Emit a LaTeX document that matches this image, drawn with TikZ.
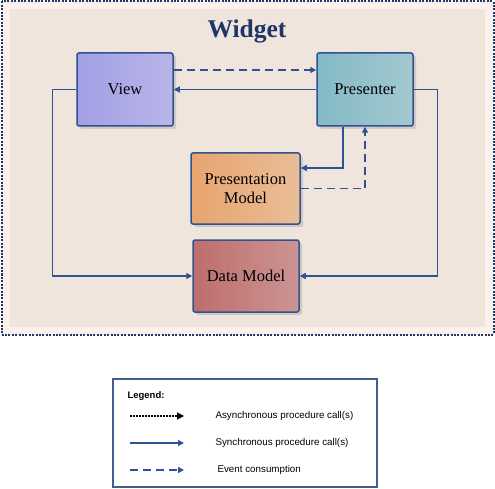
\documentclass[tikz,border=0pt]{standalone}
\usepackage{fontspec}
\setmainfont{Liberation Serif}
\setsansfont{Liberation Sans}
\usetikzlibrary{positioning, arrows.meta, shadows}

\definecolor{linkblue}{HTML}{2F5293}
\definecolor{titleblue}{HTML}{1F3468}
\definecolor{framefill}{HTML}{F9F1EA}
\definecolor{widgetfill}{HTML}{EFE5DC}
\definecolor{legendline}{HTML}{3F5F8F}
\definecolor{viewA}{HTML}{A39FE6}
\definecolor{viewB}{HTML}{B8B6E8}
\definecolor{presA}{HTML}{83BAC6}
\definecolor{presB}{HTML}{A2C8CF}
\definecolor{pmA}{HTML}{E8A46E}
\definecolor{pmB}{HTML}{E8BE98}
\definecolor{dmA}{HTML}{BE6E6C}
\definecolor{dmB}{HTML}{CC9493}

\begin{document}
\begin{tikzpicture}[x=1pt, y=-1pt,
    part/.style={rectangle, draw=linkblue, line width=1.5pt, rounded corners=2pt,
                 font=\fontsize{16.5}{19}\selectfont, align=center, inner sep=2pt,
                 drop shadow={shadow xshift=3pt, shadow yshift=-3pt, fill=black, opacity=0.12}},
    sync/.style={draw=linkblue, line width=1.4pt, -{Triangle[length=6pt, width=6pt]}},
    event/.style={sync, dash pattern=on 8pt off 5pt},
    async/.style={draw=black, line width=1.3pt, dash pattern=on 2pt off 1pt, -{Triangle[length=7pt, width=7pt]}},
    legendtext/.style={font=\sffamily\fontsize{9.8}{11}\selectfont, anchor=west}
]
    \useasboundingbox (0,0) rectangle (495,489);

    % Widget frame
    \fill[framefill] (1,1) rectangle (494,335);
    \fill[widgetfill] (10,9) rectangle (485,327);
    \draw[titleblue, line width=2pt, dash pattern=on 2pt off 1.4pt] (1.5,1.5) rectangle (493.5,334.5);

    % Title
    \node[font=\fontsize{25.5}{28}\selectfont\bfseries, text=titleblue] (title) at (247,31) {Widget};

    % Parts
    \node[part, minimum width=96pt, minimum height=73pt, left color=viewA, right color=viewB] (view) at (125,89.5) {View};
    \node[part, minimum width=96pt, minimum height=73pt, left color=presA, right color=presB] (presenter) at (365,89.5) {Presenter};
    \node[part, minimum width=109pt, minimum height=71pt, left color=pmA, right color=pmB] (pmodel) at (245.5,188.5) {Presentation\\Model};
    \node[part, minimum width=106pt, minimum height=72pt, left color=dmA, right color=dmB] (dmodel) at (246,276) {Data Model};

    % Connectors
    \draw[event] ([yshift=19.5pt]view.east) -- ([yshift=19.5pt]presenter.west);
    \draw[sync] (presenter.west) -- (view.east);
    \draw[sync] (view.west) -- ++(-24,0) |- (dmodel.west);
    \draw[sync] (presenter.east) -- ++(24,0) |- (dmodel.east);
    \draw[sync] ([xshift=-22pt]presenter.south) |- ([yshift=20.5pt]pmodel.east);
    \draw[event] (pmodel.east) -| (presenter.south);

    % Legend
    \node[draw=legendline, line width=1.3pt, fill=white, minimum width=264pt, minimum height=108pt] (legend) at (245,433) {};
    \node[font=\sffamily\bfseries\fontsize{9.5}{11}\selectfont, anchor=west] (legendtitle) at (124,396) {Legend:};
    \coordinate (a1) at (130,416);
    \coordinate (a2) at (184,416);
    \coordinate (s1) at (130,443);
    \coordinate (s2) at (184,443);
    \coordinate (e1) at (130,470);
    \coordinate (e2) at (184,470);
    \draw[async] (a1) -- (a2);
    \draw[sync] (s1) -- (s2);
    \draw[event] (e1) -- (e2);
    \node[legendtext] (asynctext) at (212,416) {Asynchronous procedure call(s)};
    \node[legendtext] (synctext) at (212,443) {Synchronous procedure call(s)};
    \node[legendtext] (eventtext) at (214,470) {Event consumption};
\end{tikzpicture}
\end{document}
